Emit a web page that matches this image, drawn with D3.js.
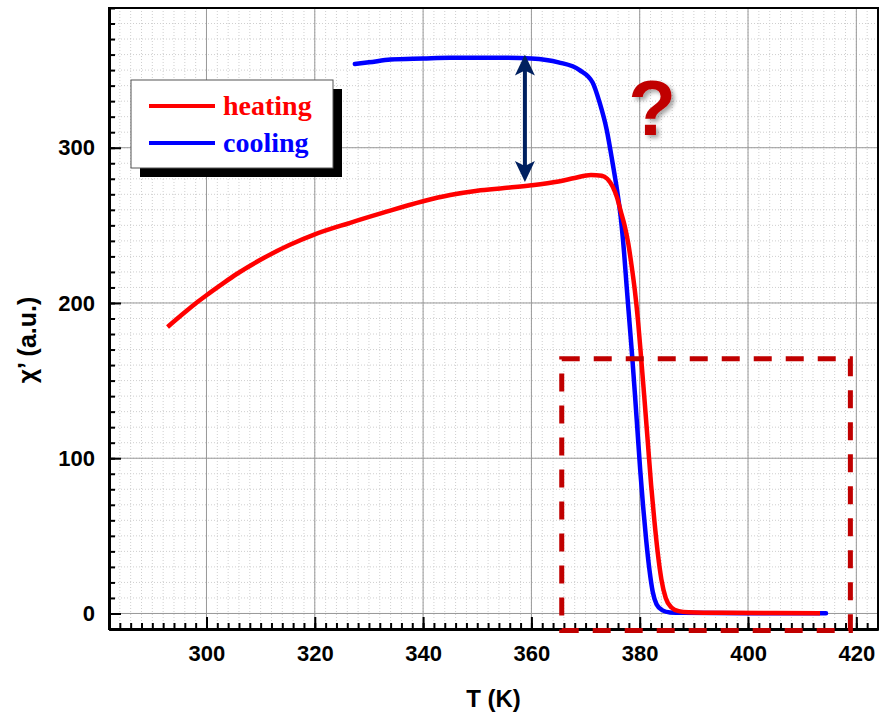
<!DOCTYPE html>
<html>
<head>
<meta charset="utf-8">
<script src="https://cdn.jsdelivr.net/npm/d3@7"></script>
<style>
  body { margin: 0; background: #fff; }
  svg { display: block; }
</style>
</head>
<body>
<script>
// Data
var heatT = [292.8, 296, 298.1, 300, 303, 305.5, 309.8, 315.3, 320, 326.4, 332.5, 340, 345, 350, 355, 360, 365, 368, 371, 373, 374, 375, 375.8, 376.5, 377.2, 377.9, 378.5, 379.1, 379.7, 380.3, 380.9, 381.5, 382.1, 382.7, 383.3, 384, 384.8, 385.8, 387.2, 389, 395, 405, 413.3];
var heatV = [184.5, 194, 200, 205, 212.5, 218.5, 227.5, 237.3, 244.2, 251.5, 258, 265.5, 269.5, 272.3, 274, 275.8, 278.3, 280.5, 282.5, 282, 280, 275, 268, 259, 250, 238, 224, 208, 188, 163, 137, 110, 83, 60, 40, 22, 10, 4, 1.5, 0.8, 0.4, 0.3, 0.2];
var coolT = [327.4, 330, 334, 340, 345, 350, 355, 360, 365, 368.9, 371.3, 372.6, 373.9, 375, 375.8, 376.5, 377.1, 377.6, 378.1, 378.6, 379.1, 379.6, 380.1, 380.6, 381.2, 381.8, 382.4, 383.1, 384.2, 385.6, 388, 400, 410, 414.4];
var coolV = [354, 355, 356.8, 357.5, 358, 358, 358, 357.5, 355, 350, 342, 329, 311.6, 290, 273, 255, 233, 210, 188, 166, 142, 117, 92, 70, 47, 28, 14, 6, 2, 0.7, 0.4, 0.2, 0.2, 0.2];

var xTicks = [300, 320, 340, 360, 380, 400, 420];
var yTicks = [0, 100, 200, 300];
var seriesNames = ["heating", "cooling"];
var seriesColors = ["#ff0000", "#0000ff"];

var svg = d3.select("body").append("svg")
    .attr("width", 882)
    .attr("height", 716);

var margin = {top: 8, right: 4, bottom: 87, left: 109},
    width = 882 - margin.left - margin.right,
    height = 716 - margin.top - margin.bottom;

var x = d3.scaleLinear().domain([282, 424]).range([margin.left, margin.left + width]);
var y = d3.scaleLinear().domain([-10, 390]).range([margin.top + height, margin.top]);

var xMinor = d3.range(284, 424, 2);
var yMinor = d3.range(-10, 391, 10);

// minor dotted grid
svg.append("g").selectAll("line").data(xMinor).enter().append("line")
    .attr("x1", d => x(d)).attr("x2", d => x(d))
    .attr("y1", margin.top).attr("y2", margin.top + height)
    .attr("stroke", "#cfcfcf").attr("stroke-dasharray", "1,2");
svg.append("g").selectAll("line").data(yMinor).enter().append("line")
    .attr("y1", d => y(d)).attr("y2", d => y(d))
    .attr("x1", margin.left).attr("x2", margin.left + width)
    .attr("stroke", "#cfcfcf").attr("stroke-dasharray", "1,2");

// major grid
svg.append("g").selectAll("line").data(xTicks).enter().append("line")
    .attr("x1", d => x(d)).attr("x2", d => x(d))
    .attr("y1", margin.top).attr("y2", margin.top + height)
    .attr("stroke", "#999");
svg.append("g").selectAll("line").data(yTicks).enter().append("line")
    .attr("y1", d => y(d)).attr("y2", d => y(d))
    .attr("x1", margin.left).attr("x2", margin.left + width)
    .attr("stroke", "#999");

// curves
var line = d3.line().curve(d3.curveMonotoneX)
    .x(d => x(d[0])).y(d => y(d[1]));

svg.append("path")
    .datum(coolT.map((t, i) => [t, coolV[i]]))
    .attr("d", line)
    .attr("fill", "none")
    .attr("stroke", seriesColors[1])
    .attr("stroke-width", 4.5)
    .attr("stroke-linecap", "round");

svg.append("path")
    .datum(heatT.map((t, i) => [t, heatV[i]]))
    .attr("d", line)
    .attr("fill", "none")
    .attr("stroke", seriesColors[0])
    .attr("stroke-width", 4.5);

// frame
svg.append("rect")
    .attr("x", margin.left).attr("y", margin.top)
    .attr("width", width).attr("height", height)
    .attr("fill", "none").attr("stroke", "#000").attr("stroke-width", 2);

// axes
var fontTick = "'Liberation Sans', Arial, sans-serif";

var gx = svg.append("g")
    .attr("transform", "translate(0," + (margin.top + height) + ")")
    .call(d3.axisBottom(x).tickValues(xTicks).tickSize(-12).tickSizeOuter(0).tickPadding(16));
var gxm = svg.append("g")
    .attr("transform", "translate(0," + (margin.top + height) + ")")
    .call(d3.axisBottom(x).tickValues(xMinor).tickSize(-6).tickSizeOuter(0).tickFormat(""));
var gy = svg.append("g")
    .attr("transform", "translate(" + margin.left + ",0)")
    .call(d3.axisLeft(y).tickValues(yTicks).tickSize(-12).tickSizeOuter(0).tickPadding(14));
var gym = svg.append("g")
    .attr("transform", "translate(" + margin.left + ",0)")
    .call(d3.axisLeft(y).tickValues(yMinor).tickSize(-6).tickSizeOuter(0).tickFormat(""));

[gx, gxm, gy, gym].forEach(function(g) {
  g.select(".domain").attr("stroke", "#000").attr("stroke-width", 3);
  g.selectAll(".tick line").attr("stroke", "#000").attr("stroke-width", 2);
  g.selectAll(".tick text")
    .attr("fill", "#000")
    .style("font-family", fontTick)
    .style("font-weight", "bold")
    .style("font-size", "22px");
});

// axis titles
svg.append("text")
    .attr("x", margin.left + width / 2)
    .attr("y", 707)
    .attr("text-anchor", "middle")
    .style("font-family", fontTick)
    .style("font-weight", "bold")
    .style("font-size", "24px")
    .text("T (K)");

svg.append("text")
    .attr("transform", "translate(36,340) rotate(-90)")
    .attr("text-anchor", "middle")
    .style("font-family", fontTick)
    .style("font-weight", "bold")
    .style("font-size", "25px")
    .text("χ’ (a.u.)");

// dashed box
svg.append("rect")
    .attr("x", x(365.6)).attr("y", y(164))
    .attr("width", x(418.9) - x(365.6))
    .attr("height", y(-11) - y(164))
    .attr("fill", "none")
    .attr("stroke", "#c00000")
    .attr("stroke-width", 5)
    .attr("stroke-dasharray", "18,14");

// double arrow
var ax = x(358.8), ay1 = y(360), ay2 = y(278);
var navy = "#002060";
svg.append("line")
    .attr("x1", ax).attr("x2", ax)
    .attr("y1", ay1 + 12).attr("y2", ay2 - 12)
    .attr("stroke", navy).attr("stroke-width", 4);
svg.append("path")
    .attr("d", "M" + ax + "," + ay1 + " L" + (ax + 10) + "," + (ay1 + 21) +
      " L" + ax + "," + (ay1 + 16) + " L" + (ax - 10) + "," + (ay1 + 21) + "Z")
    .attr("fill", navy);
svg.append("path")
    .attr("d", "M" + ax + "," + ay2 + " L" + (ax + 10) + "," + (ay2 - 21) +
      " L" + ax + "," + (ay2 - 16) + " L" + (ax - 10) + "," + (ay2 - 21) + "Z")
    .attr("fill", navy);

// question mark
var defs = svg.append("defs");
var f = defs.append("filter").attr("id", "shadow")
    .attr("x", "-50%").attr("y", "-50%").attr("width", "200%").attr("height", "200%");
f.append("feDropShadow")
    .attr("dx", 3).attr("dy", 3).attr("stdDeviation", 2)
    .attr("flood-color", "#000").attr("flood-opacity", 0.35);

svg.append("text")
    .attr("x", 652)
    .attr("y", 135)
    .attr("text-anchor", "middle")
    .attr("fill", "#c00000")
    .attr("filter", "url(#shadow)")
    .style("font-family", fontTick)
    .style("font-weight", "bold")
    .style("font-size", "78px")
    .text("?");

// legend
var lg = svg.append("g");
lg.append("rect")
    .attr("x", 140).attr("y", 89).attr("width", 202).attr("height", 88)
    .attr("fill", "#000");
lg.append("rect")
    .attr("x", 131).attr("y", 80).attr("width", 202).attr("height", 88)
    .attr("fill", "#fff").attr("stroke", "#555").attr("stroke-width", 1);

seriesNames.forEach(function(name, i) {
  var ly = 106 + i * 37;
  lg.append("line")
    .attr("x1", 149).attr("x2", 215)
    .attr("y1", ly).attr("y2", ly)
    .attr("stroke", seriesColors[i]).attr("stroke-width", 4);
  lg.append("text")
    .attr("x", 223).attr("y", ly + 9)
    .attr("fill", seriesColors[i])
    .style("font-family", "'Liberation Serif', 'Times New Roman', serif")
    .style("font-weight", "bold")
    .style("font-size", "28px")
    .text(name);
});
</script>
</body>
</html>
